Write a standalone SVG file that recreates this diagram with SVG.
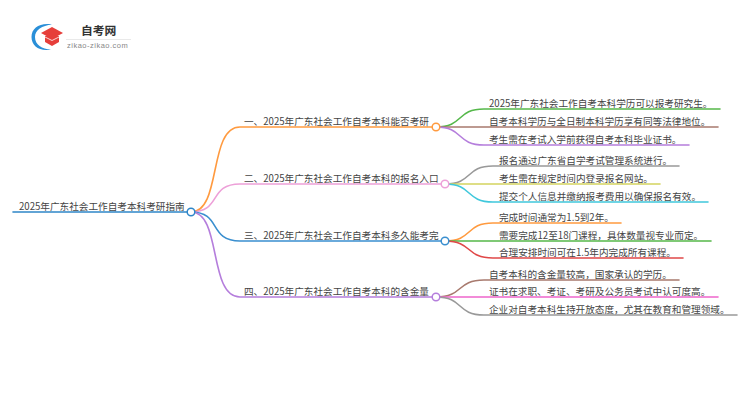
<svg xmlns="http://www.w3.org/2000/svg" width="750" height="410" viewBox="0 0 750 410">
<style>
text{font-family:"Noto Sans CJK SC","Noto Sans",sans-serif;font-size:9.650px;fill:#444}
.c{fill:none;stroke-width:1.6;stroke-linecap:round}
.n{fill:#fff;stroke-width:1.5}
</style>
<rect width="750" height="410" fill="#fff"/>
<g id="logo">
<path d="M52 24.500C40 22.500 31.500 28 31.500 37C31.500 46 40 52 51 49.500C42 49 35 45 35 37C35 30 42 25.500 52 24.500Z" fill="#2a8fd8"/>
<path d="M45 36H59V42L52 46L45 42Z" fill="#e63e3a"/>
<path d="M41 33L52 27L63 33L52 39Z" fill="#e63e3a"/>
<path d="M45 37L52 40.500L59 37" fill="none" stroke="#fff" stroke-width="0.800"/>
<text x="81" y="35" style="font-size:11.800px;font-weight:700;fill:#333">自考网</text>
<rect x="66" y="39" width="65" height="0.800" fill="#e4e4e4"/>
<text x="67" y="48" style="font-size:7.500px;fill:#888;letter-spacing:.5px;font-family:'Liberation Sans',sans-serif">zikao-zikao.com</text>
</g>
<g id="connectors">
<path class="c" stroke="#2f86c8" d="M13 212H187"/>
<path class="c" stroke="#ff9a3f" d="M191 212C222 212 208 127 240 127H432"/>
<path class="c" stroke="#eda0d8" d="M191 212C222 212 208 184 240 184H441"/>
<path class="c" stroke="#3a8fcf" d="M191 212C222 212 208 241 240 241H441"/>
<path class="c" stroke="#b57edc" d="M191 212C222 212 208 297 240 297H432"/>
<path class="c" stroke="#55b84a" d="M436 127C464 127 456 109 484 109H720"/>
<path class="c" stroke="#a87a6e" d="M436 127H718"/>
<path class="c" stroke="#b57edc" d="M436 127C464 127 456 145 484 145H689"/>
<path class="c" stroke="#999999" d="M445 184C473 184 465 166 493 166H679"/>
<path class="c" stroke="#d4d35f" d="M445 184H660"/>
<path class="c" stroke="#40c8dc" d="M445 184C473 184 465 202 493 202H708"/>
<path class="c" stroke="#ff9a3f" d="M445 241C473 241 465 223 493 223H621"/>
<path class="c" stroke="#55b84a" d="M445 241H711"/>
<path class="c" stroke="#e04848" d="M445 241C473 241 465 258 493 258H683"/>
<path class="c" stroke="#a87a6e" d="M436 297C464 297 456 280 484 280H679"/>
<path class="c" stroke="#ee66cc" d="M436 297H718"/>
<path class="c" stroke="#999999" d="M436 297C464 297 456 315 484 315H737"/>
</g>
<g id="root"><text x="19" y="210">2025年广东社会工作自考本科考研指南</text><circle class="n" cx="191" cy="212" r="3.800" stroke="#2f86c8"/></g>
<g id="b1"><text x="244" y="125">一、2025年广东社会工作自考本科能否考研</text><circle class="n" cx="436" cy="127" r="3.800" stroke="#ff9a3f"/></g>
<g id="b2"><text x="244" y="182">二、2025年广东社会工作自考本科的报名入口</text><circle class="n" cx="445" cy="184" r="3.800" stroke="#eda0d8"/></g>
<g id="b3"><text x="244" y="239">三、2025年广东社会工作自考本科多久能考完</text><circle class="n" cx="445" cy="241" r="3.800" stroke="#3a8fcf"/></g>
<g id="b4"><text x="244" y="295">四、2025年广东社会工作自考本科的含金量</text><circle class="n" cx="436" cy="297" r="3.800" stroke="#b57edc"/></g>
<g id="l11"><text x="489" y="107">2025年广东社会工作自考本科学历可以报考研究生。</text></g>
<g id="l12"><text x="489" y="125">自考本科学历与全日制本科学历享有同等法律地位。</text></g>
<g id="l13"><text x="489" y="143">考生需在考试入学前获得自考本科毕业证书。</text></g>
<g id="l21"><text x="499" y="164">报名通过广东省自学考试管理系统进行。</text></g>
<g id="l22"><text x="499" y="182">考生需在规定时间内登录报名网站。</text></g>
<g id="l23"><text x="499" y="200">提交个人信息并缴纳报考费用以确保报名有效。</text></g>
<g id="l31"><text x="499" y="221">完成时间通常为1.5到2年。</text></g>
<g id="l32"><text x="499" y="239">需要完成12至18门课程，具体数量视专业而定。</text></g>
<g id="l33"><text x="499" y="256">合理安排时间可在1.5年内完成所有课程。</text></g>
<g id="l41"><text x="489" y="278">自考本科的含金量较高，国家承认的学历。</text></g>
<g id="l42"><text x="489" y="295">证书在求职、考证、考研及公务员考试中认可度高。</text></g>
<g id="l43"><text x="489" y="313">企业对自考本科生持开放态度，尤其在教育和管理领域。</text></g>
</svg>
